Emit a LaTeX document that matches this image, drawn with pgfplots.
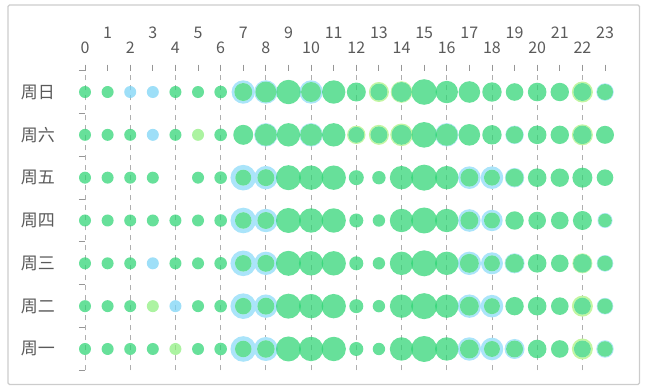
\documentclass[border=0pt]{standalone}
\usepackage{pgfplots}
\pgfplotsset{compat=1.18}
\usepackage{pgfplotstable}
\usepackage{fontspec}
\setmainfont{Noto Sans CJK SC}
\definecolor{bub}{RGB}{45,212,115}
\definecolor{bubB}{RGB}{120,210,245}
\definecolor{bubL}{RGB}{140,238,125}
\definecolor{haloB}{RGB}{170,228,250}
\definecolor{haloL}{RGB}{195,246,160}
\definecolor{lab}{RGB}{90,90,90}
\definecolor{tk}{RGB}{150,150,150}
\definecolor{gridc}{RGB}{175,175,175}

% main green bubbles: hour, day (0=Mon ... 6=Sun), radius (px)
\pgfplotstableread{
x y r
0 6 6
1 6 6
4 6 6
5 6 6
6 6 6.3
7 6 9
8 6 10.5
9 6 12.2
10 6 10
11 6 11.7
12 6 9.5
13 6 8.5
14 6 10
15 6 12.8
16 6 11.2
17 6 10.8
18 6 9.7
19 6 8.8
20 6 9.3
21 6 9.2
22 6 9
23 6 8
0 5 6
1 5 6
2 5 6
4 5 6
6 5 6.3
7 5 10
8 5 11
9 5 11.7
10 5 11
11 5 11.7
12 5 8
13 5 8.5
14 5 10
15 5 12.8
16 5 11
17 5 10.8
18 5 9.7
19 5 8.7
20 5 9.3
21 5 9.2
22 5 9.3
23 5 9
0 4 6
1 4 6
2 4 6
3 4 6
5 4 6
6 4 6.3
7 4 8
8 4 8.5
9 4 12.5
10 4 12.2
11 4 12.2
12 4 7.5
13 4 6.7
14 4 11.7
15 4 13
16 4 11.7
17 4 9
18 4 8
19 4 9
20 4 9.3
21 4 9.2
22 4 10
23 4 8.3
0 3 6
1 3 6
2 3 6
3 3 6
4 3 6
5 3 6
6 3 6.3
7 3 8.3
8 3 8.5
9 3 12.5
10 3 12.2
11 3 12.2
12 3 7
13 3 6.2
14 3 11.7
15 3 13
16 3 11.7
17 3 9
18 3 8
19 3 9.2
20 3 8.8
21 3 8.8
22 3 9.5
23 3 6.8
0 2 6
1 2 6
2 2 6
4 2 6
5 2 6
6 2 6.3
7 2 8.3
8 2 8.5
9 2 12.5
10 2 12.2
11 2 12.2
12 2 7
13 2 6.2
14 2 11.7
15 2 13
16 2 11.7
17 2 9.5
18 2 8
19 2 9.3
20 2 9.3
21 2 8.8
22 2 9.3
23 2 7.7
0 1 6
1 1 6
2 1 6
5 1 6
6 1 6.3
7 1 8.3
8 1 8.5
9 1 12.5
10 1 12.2
11 1 12.2
12 1 7
13 1 6.2
14 1 11.7
15 1 13
16 1 11.7
17 1 9.5
18 1 8
19 1 9.2
20 1 9.3
21 1 8.8
22 1 8.5
23 1 7.7
0 0 6
1 0 6
2 0 6
3 0 6
5 0 6
6 0 6.3
7 0 8.3
8 0 8.8
9 0 12.5
10 0 12.2
11 0 12.2
12 0 7
13 0 6.2
14 0 11.7
15 0 13
16 0 11.7
17 0 9.5
18 0 8
19 0 8.5
20 0 9.3
21 0 8.8
22 0 8.5
23 0 7.8
}\greentab

\pgfplotstableread{
x y r
2 6 6
3 6 6
3 5 6
3 2 6
4 1 6
}\bluetab

\pgfplotstableread{
x y r
5 5 6
3 1 6
4 0 6
}\lgtab

% halos: outer radius R and ring width w
\pgfplotstableread{
x y R w
7 6 11.7 2.7
8 6 11.7 1.2
10 6 11.7 1.7
23 6 8.7 0.8
8 5 11.7 0.7
10 5 11.7 0.7
16 5 11.7 0.7
19 5 9.2 0.5
7 4 12.8 4.8
8 4 11.7 3.2
17 4 11.3 2.3
18 4 11.3 3.3
19 4 9.7 0.7
7 3 12.8 4.5
8 3 11.7 3.2
17 3 11.3 2.3
18 3 10.7 2.7
23 3 7.5 0.7
7 2 12.8 4.5
8 2 11.7 3.2
17 2 11.7 2.2
18 2 11 3
19 2 10 0.7
23 2 8.3 0.6
7 1 12.8 4.5
8 1 11.7 3.2
17 1 11.7 2.2
18 1 11.3 3.3
23 1 8.3 0.6
7 0 12.8 4.5
8 0 12 3.2
17 0 11.7 2.2
18 0 11.3 3.3
19 0 10 1.5
23 0 8.7 0.9
}\ringBtab

\pgfplotstableread{
x y R w
13 6 10 1.5
14 6 10.8 0.8
22 6 10.5 1.5
12 5 9.2 1.2
13 5 10 1.5
14 5 11.3 1.3
22 5 10.5 1.2
22 2 10 0.7
22 1 10.5 2
22 0 10.5 2
}\ringLtab

\pgfplotsset{
  bubble/.style={scatter, only marks, mark=*, scatter src=explicit,
    scatter/use mapped color={draw=#1, fill=#1, fill opacity=0.72, draw opacity=0},
    visualization depends on={\thisrow{r}\as\rad},
    scatter/@pre marker code/.append style={/tikz/mark size=\rad}},
  halo/.style={scatter, only marks, mark=*, scatter src=explicit,
    scatter/use mapped color={draw=#1, fill=#1, draw opacity=0},
    visualization depends on={\thisrow{R}\as\rad},
    scatter/@pre marker code/.append style={/tikz/mark size=\rad}},
  hole/.style={scatter, only marks, mark=*, scatter src=explicit,
    scatter/use mapped color={draw=white, fill=white, draw opacity=0},
    visualization depends on={\thisrow{R}-\thisrow{w}\as\rad},
    scatter/@pre marker code/.append style={/tikz/mark size=\rad}},
}

\begin{document}
\begin{tikzpicture}[x=1pt,y=1pt]
\draw[draw=black!20, line width=1.3pt, rounded corners=1.5pt] (8,5.5) rectangle (639.5,385);
\begin{axis}[
  at={(85pt,19.6pt)}, anchor=south west,
  scale only axis, width=520pt, height=299.8pt,
  xmin=0, xmax=23, ymin=-0.5, ymax=6.5,
  clip=false,
  axis x line*=top, axis y line*=left,
  axis line style={draw=none},
  tick align=outside,
  major tick length=6pt,
  tick style={draw=tk, line width=0.9pt},
  xtick={0,2,...,22},
  extra x ticks={1,3,...,23},
  extra x tick style={grid=none, xticklabel style={yshift=15pt}},
  xmajorgrids,
  grid style={draw=gridc, line width=0.8pt, dash pattern=on 5pt off 5pt},
  ytick={-0.5,0.5,...,6.5},
  yticklabels={\mbox{},\mbox{},\mbox{},\mbox{},\mbox{},\mbox{},\mbox{},\mbox{}},
  extra y ticks={0,...,6},
  extra y tick labels={周一,周二,周三,周四,周五,周六,周日},
  extra y tick style={major tick length=0pt, tick style={draw=none}, grid=none},
  x tick label style={font=\fontsize{16}{18}\selectfont, text=lab, inner sep=0pt, anchor=south, yshift=10.5pt},
  y tick label style={font=\fontsize{17}{20}\selectfont, text=lab, inner sep=0pt, anchor=east, xshift=-30pt},
  /pgf/number format/assume math mode=true,
]
\addplot[halo=haloB] table[x=x,y=y,meta=R] {\ringBtab};
\addplot[halo=haloL] table[x=x,y=y,meta=R] {\ringLtab};
\addplot[hole] table[x=x,y=y,meta=R] {\ringBtab};
\addplot[hole] table[x=x,y=y,meta=R] {\ringLtab};
\addplot[bubble=bub] table[x=x,y=y,meta=r] {\greentab};
\addplot[bubble=bubB] table[x=x,y=y,meta=r] {\bluetab};
\addplot[bubble=bubL] table[x=x,y=y,meta=r] {\lgtab};
\end{axis}
\pgfresetboundingbox
\useasboundingbox (0,0) rectangle (647,390);
\end{tikzpicture}
\end{document}
